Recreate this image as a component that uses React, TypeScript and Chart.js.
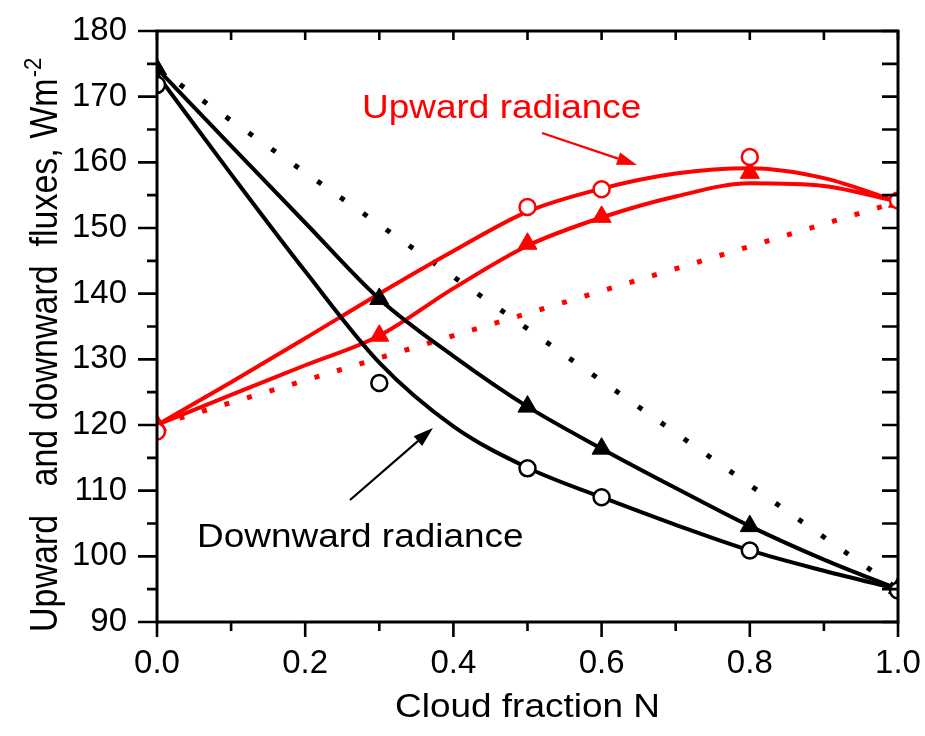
import React, { useEffect, useRef } from 'react';
import { Chart, registerables } from 'chart.js';

Chart.register(...registerables);

// ---------- data ----------
const fitN = [0, 0.1, 0.2, 0.3, 0.4, 0.5, 0.6, 0.7, 0.8, 0.9, 1.0];
const blackCircleFit = [173.4, 158.2, 143.4, 129.5, 119.8, 113.5, 109.0, 104.8, 100.9, 97.8, 95.0];
const blackTriangleFit = [174.3, 162.5, 150.8, 139.2, 130.5, 122.8, 116.4, 110.4, 104.6, 99.5, 95.0];
const redCircleFit = [120.0, 126.5, 133.2, 140.0, 146.5, 152.5, 156.0, 158.3, 159.1, 157.6, 154.0];
const redTriangleFit = [120.0, 124.6, 129.1, 133.6, 140.8, 147.3, 151.6, 154.8, 156.8, 156.4, 154.0];

const dottedN = [0, 1.0];
const blackDotted = [174.3, 95.0];
const redDotted = [120.0, 154.0];

const blackCircleN = [0, 0.3, 0.5, 0.6, 0.8, 1.0];
const blackCircles = [171.8, 126.4, 113.4, 109.0, 100.9, 94.8];
const blackTriangleN = [0, 0.3, 0.5, 0.6, 0.8, 1.0];
const blackTriangles = [174.2, 139.2, 122.8, 116.4, 104.6, 95.2];
const redCircleN = [0, 0.5, 0.6, 0.8, 1.0];
const redCircles = [119.0, 153.2, 155.9, 160.8, 154.2];
const redTriangleN = [0, 0.3, 0.5, 0.6, 0.8, 1.0];
const redTriangles = [120.0, 133.6, 147.6, 151.7, 158.4, 154.0];

const xTickValues = [0, 0.2, 0.4, 0.6, 0.8, 1.0];
const yTickValues = [90, 100, 110, 120, 130, 140, 150, 160, 170, 180];
const xMinorStep = 0.1;
const yMinorStep = 5;

const xTitle = 'Cloud fraction N';
const yTitle = 'Upward   and downward  fluxes, Wm';
const yTitleSup = '-2';
const upLabel = 'Upward radiance';
const downLabel = 'Downward radiance';

const RED = 'rgb(255,0,0)';
const BLACK = '#000';
const FONT = '"Liberation Sans", Arial, Helvetica, sans-serif';
const SX = 1.12;
const W = 925;
const H = 736;

const pts = (xs: number[], ys: number[]) => xs.map((x, i) => ({ x, y: ys[i] }));

function drawText(ctx: CanvasRenderingContext2D, text: string, x: number, y: number, size: number, color: string, align: CanvasTextAlign = 'left') {
  ctx.save();
  ctx.translate(x, y);
  ctx.scale(SX, 1);
  ctx.font = `${size}px ${FONT}`;
  ctx.fillStyle = color;
  ctx.textAlign = align;
  ctx.textBaseline = 'alphabetic';
  ctx.fillText(text, 0, 0);
  ctx.restore();
}

function drawArrow(ctx: CanvasRenderingContext2D, x0: number, y0: number, x1: number, y1: number, color: string) {
  const ang = Math.atan2(y1 - y0, x1 - x0);
  const hl = 20, hw = 6.5;
  const bx = x1 - hl * Math.cos(ang), by = y1 - hl * Math.sin(ang);
  ctx.save();
  ctx.strokeStyle = color;
  ctx.fillStyle = color;
  ctx.lineWidth = 2.2;
  ctx.beginPath();
  ctx.moveTo(x0, y0);
  ctx.lineTo(bx, by);
  ctx.stroke();
  ctx.beginPath();
  ctx.moveTo(x1, y1);
  ctx.lineTo(bx + hw * Math.sin(ang), by - hw * Math.cos(ang));
  ctx.lineTo(bx - hw * Math.sin(ang), by + hw * Math.cos(ang));
  ctx.closePath();
  ctx.fill();
  ctx.restore();
}

const decorPlugin = {
  id: 'decor',
  beforeDatasetsDraw(chart: any) {
    const { ctx, chartArea: a } = chart;
    ctx.save();
    ctx.beginPath();
    ctx.rect(a.left, a.top, a.right - a.left, a.bottom - a.top);
    ctx.clip();
  },
  afterDatasetsDraw(chart: any) {
    const { ctx, chartArea: a } = chart;
    ctx.restore();
    const xs = chart.scales.x;
    const ys = chart.scales.y;
    ctx.save();
    // frame
    ctx.strokeStyle = BLACK;
    ctx.lineWidth = 3;
    ctx.strokeRect(a.left, a.top, a.right - a.left, a.bottom - a.top);
    ctx.lineWidth = 2.6;
    ctx.lineCap = 'butt';
    ctx.beginPath();
    // left (outward) & right (inward) ticks
    for (let v = ys.min; v <= ys.max + 1e-9; v += yMinorStep) {
      const py = ys.getPixelForValue(v);
      const major = Math.abs(v % 10) < 1e-9;
      ctx.moveTo(a.left, py);
      ctx.lineTo(a.left - (major ? 19 : 10), py);
      ctx.moveTo(a.right, py);
      ctx.lineTo(a.right - 16, py);
    }
    // bottom (outward) & top (inward) ticks
    for (let i = 0; i <= Math.round((xs.max - xs.min) / xMinorStep); i++) {
      const v = xs.min + i * xMinorStep;
      const px = xs.getPixelForValue(v);
      const major = i % 2 === 0;
      ctx.moveTo(px, a.bottom);
      ctx.lineTo(px, a.bottom + (major ? 15 : 9));
      ctx.moveTo(px, a.top);
      ctx.lineTo(px, a.top + 9);
    }
    ctx.stroke();
    ctx.restore();

    // annotations
    drawText(ctx, upLabel, 362, 118, 33, RED);
    drawArrow(ctx, 542, 133, 637, 165, RED);
    drawText(ctx, downLabel, 197, 547, 33, BLACK);
    drawArrow(ctx, 350, 500, 433, 428, BLACK);

    // x title
    drawText(ctx, xTitle, (a.left + a.right) / 2, 717, 33, BLACK, 'center');

    // y title (rotated, with superscript)
    ctx.save();
    ctx.translate(57, 632);
    ctx.rotate(-Math.PI / 2);
    ctx.scale(1, SX);
    ctx.font = `34px ${FONT}`;
    ctx.fillStyle = BLACK;
    ctx.textAlign = 'left';
    ctx.textBaseline = 'alphabetic';
    ctx.fillText(yTitle, 0, 0);
    const w = ctx.measureText(yTitle).width;
    ctx.font = `22px ${FONT}`;
    ctx.fillText(yTitleSup, w + 1, -14);
    ctx.restore();
  },
};

export default function App() {
  const ref = useRef<HTMLCanvasElement | null>(null);
  useEffect(() => {
    if (!ref.current) return;
    const curve = (xs: number[], ys: number[], color: string, order: number) => ({
      data: pts(xs, ys),
      borderColor: color,
      borderWidth: 4,
      pointRadius: 0,
      cubicInterpolationMode: 'monotone',
      fill: false,
      order,
    });
    const dotted = (ys: number[], color: string, dash: number[]) => ({
      data: pts(dottedN, ys),
      borderColor: color,
      borderWidth: 5,
      borderDash: dash,
      borderCapStyle: 'butt',
      pointRadius: 0,
      tension: 0,
      fill: false,
      order: 4,
    });
    const markers = (xs: number[], ys: number[], color: string, style: string, order: number) => ({
      data: pts(xs, ys),
      showLine: false,
      pointStyle: style,
      pointRadius: style === 'triangle' ? 11 : 8,
      pointBorderWidth: style === 'triangle' ? 1 : 2.5,
      pointBorderColor: color,
      pointBackgroundColor: style === 'triangle' ? color : '#fff',
      order,
    });
    const chart = new Chart(ref.current, {
      type: 'line',
      data: {
        datasets: [
          dotted(blackDotted, BLACK, [5, 23]),
          dotted(redDotted, RED, [5, 18.5]),
          curve(fitN, blackCircleFit, BLACK, 3),
          curve(fitN, blackTriangleFit, BLACK, 3),
          curve(fitN, redCircleFit, RED, 3),
          curve(fitN, redTriangleFit, RED, 3),
          markers(blackTriangleN, blackTriangles, BLACK, 'triangle', 1),
          markers(redTriangleN, redTriangles, RED, 'triangle', 1),
          markers(blackCircleN, blackCircles, BLACK, 'circle', 0),
          markers(redCircleN, redCircles, RED, 'circle', 0),
        ] as any,
      },
      options: {
        responsive: false,
        animation: false,
        events: [],
        layout: { padding: { top: 31, right: 27, left: 0, bottom: 0 } },
        plugins: { legend: { display: false }, tooltip: { enabled: false } },
        scales: {
          x: {
            type: 'linear',
            min: 0,
            max: 1,
            grid: { display: false, drawTicks: false },
            border: { display: false },
            ticks: {
              padding: 22,
              color: BLACK,
              font: { family: FONT, size: 33 },
              callback: (v: any) => Number(v).toFixed(1),
            },
            afterBuildTicks: (s: any) => { s.ticks = xTickValues.map((v) => ({ value: v })); },
            afterFit: (s: any) => { s.height = 114; s.paddingLeft = 0; s.paddingRight = 0; },
          },
          y: {
            type: 'linear',
            min: 90,
            max: 180,
            grid: { display: false, drawTicks: false },
            border: { display: false },
            ticks: {
              padding: 30,
              color: BLACK,
              font: { family: FONT, size: 33 },
              callback: (v: any) => String(Math.round(Number(v))),
            },
            afterBuildTicks: (s: any) => { s.ticks = yTickValues.map((v) => ({ value: v })); },
            afterFit: (s: any) => { s.width = 157; s.paddingTop = 0; s.paddingBottom = 0; },
          },
        },
      } as any,
      plugins: [decorPlugin],
    });
    return () => chart.destroy();
  }, []);
  return (
    <div style={{ position: 'absolute', left: 0, top: 0, width: W, height: H }}>
      <canvas ref={ref} width={W} height={H} style={{ display: 'block' }} />
    </div>
  );
}
